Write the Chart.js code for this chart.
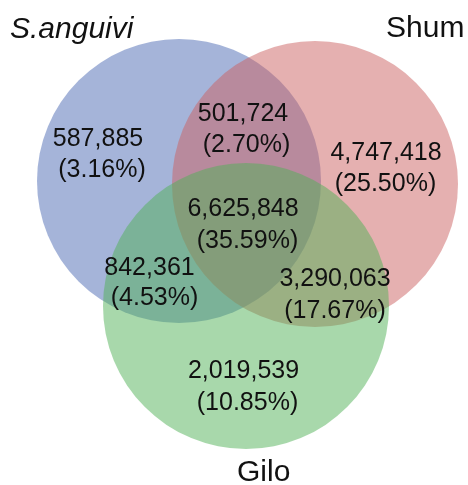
<!DOCTYPE html>
<html>
<head>
<meta charset="utf-8">
<script src="https://cdn.jsdelivr.net/npm/chart.js@4"></script>
<style>
html,body{margin:0;padding:0;background:#fff;}
#wrap{width:468px;height:485px;position:relative;}
</style>
</head>
<body>
<div id="wrap"><canvas id="c" width="468" height="485"></canvas></div>
<script>
// ---- data ----
const setNames = ["S.anguivi", "Shum", "Gilo"];
const regionNames = ["S.anguivi only", "S.anguivi∩Shum", "Shum only", "all three", "S.anguivi∩Gilo", "Shum∩Gilo", "Gilo only"];
const regionCounts = ["587,885", "501,724", "4,747,418", "6,625,848", "842,361", "3,290,063", "2,019,539"];
const regionPercents = ["(3.16%)", "(2.70%)", "(25.50%)", "(35.59%)", "(4.53%)", "(17.67%)", "(10.85%)"];

// ---- layout (geometry of the Venn drawing, in scale units) ----
const circleX = [179, 315, 246];
const circleY = [181, 184, 306];
const circleR = [142, 143, 143];
const circleColors = ["rgba(75,105,179,0.5)", "rgba(203,97,97,0.5)", "rgba(81,177,87,0.5)"];
const countX = [98, 243, 386, 243, 149.5, 335, 243.5];
const countY = [146, 121, 159.5, 216, 274.5, 286, 378];
const pctX = [102, 246.5, 385.5, 247.5, 154.5, 335, 247.5];
const pctY = [177, 152, 191, 248, 305, 318, 410];
const setLabelX = [10, 386, 237];
const setLabelY = [38, 37, 481];
const setLabelItalic = [true, false, false];

const datasets = [0, 1, 2].map(i => ({
  label: setNames[i],
  data: [{x: circleX[i], y: circleY[i], r: circleR[i]}],
  backgroundColor: circleColors[i],
  borderWidth: 0,
  hoverBorderWidth: 0,
  hoverRadius: 0,
  clip: false,
  order: 3 - i
}));

const textPlugin = {
  id: 'vennText',
  afterDatasetsDraw(chart) {
    const ctx = chart.ctx;
    const xs = chart.scales.x, ys = chart.scales.y;
    ctx.save();
    ctx.fillStyle = '#111';
    ctx.textBaseline = 'alphabetic';
    ctx.textAlign = 'center';
    ctx.font = '25px "Liberation Sans", Arial, sans-serif';
    for (let i = 0; i < regionCounts.length; i++) {
      ctx.fillText(regionCounts[i], xs.getPixelForValue(countX[i]), ys.getPixelForValue(countY[i]));
      ctx.fillText(regionPercents[i], xs.getPixelForValue(pctX[i]), ys.getPixelForValue(pctY[i]));
    }
    ctx.textAlign = 'left';
    for (let i = 0; i < setNames.length; i++) {
      ctx.font = (setLabelItalic[i] ? 'italic ' : '') + '30px "Liberation Sans", Arial, sans-serif';
      ctx.fillText(setNames[i], xs.getPixelForValue(setLabelX[i]), ys.getPixelForValue(setLabelY[i]));
    }
    ctx.restore();
  }
};

new Chart(document.getElementById('c'), {
  type: 'bubble',
  data: { datasets },
  options: {
    responsive: false,
    animation: false,
    events: [],
    layout: { padding: 0, autoPadding: false },
    plugins: { legend: { display: false }, tooltip: { enabled: false } },
    scales: {
      x: { type: 'linear', min: 0, max: 468, display: false },
      y: { type: 'linear', min: 0, max: 485, reverse: true, display: false }
    }
  },
  plugins: [textPlugin]
});
</script>
</body>
</html>
